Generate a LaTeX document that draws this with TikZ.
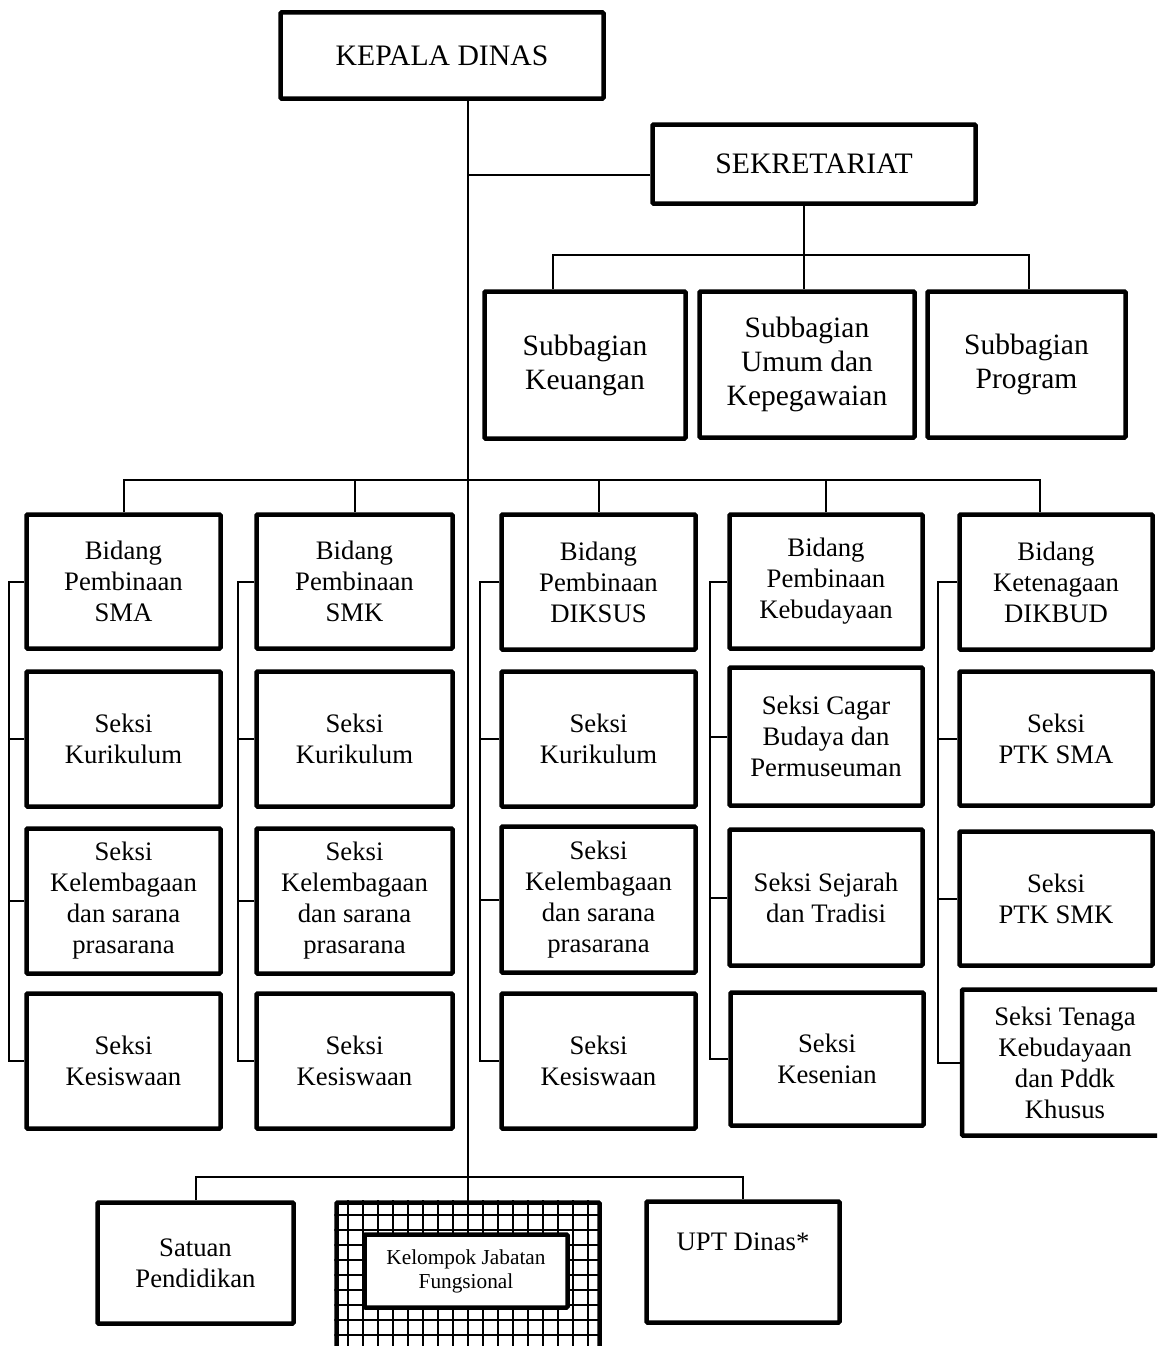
\documentclass[tikz,border=0pt]{standalone}
\usepackage{fontspec}
\setmainfont{Liberation Serif}
\usepackage{tikz}
\usetikzlibrary{calc}

\begin{document}
\begin{tikzpicture}[x=1pt, y=-1pt,
	kotak/.style={draw=black, line width=4.5pt, rounded corners=1pt, align=center, inner sep=0pt, fill=white, font=\fontsize{26.7}{31}\selectfont},
	garis/.style={line width=2pt}]
			\clip (0,0) rectangle (1157,1346);

			% pimpinan
			\node[kotak, minimum width=323, minimum height=86, font=\fontsize{29.7}{34}\selectfont](kadis) at (442,55.5) {KEPALA DINAS};
			\node[kotak, minimum width=323, minimum height=79, font=\fontsize{29.7}{34}\selectfont](sek) at (814,164) {SEKRETARIAT};

			\node[kotak, minimum width=201, minimum height=147, font=\fontsize{29.5}{34}\selectfont](sb1) at (585,365) {Subbagian\\Keuangan};
			\node[kotak, minimum width=215, minimum height=146, font=\fontsize{29.5}{34}\selectfont](sb2) at (807,364.5) {Subbagian\\Umum dan\\Kepegawaian};
			\node[kotak, minimum width=198, minimum height=146, font=\fontsize{29.5}{34}\selectfont](sb3) at (1026.5,364.5) {Subbagian\\Program};

			% bidang SMA
			\node[kotak, minimum width=194, minimum height=134](b1) at (123.5,581.5) {Bidang\\Pembinaan\\SMA};
			\node[kotak, minimum width=194, minimum height=135](s1a) at (123.5,739) {Seksi\\Kurikulum};
			\node[kotak, minimum width=194, minimum height=145](s1b) at (123.5,901) {Seksi\\Kelembagaan\\dan sarana\\prasarana};
			\node[kotak, minimum width=194, minimum height=135](s1c) at (123.5,1061) {Seksi\\Kesiswaan};

			% bidang SMK
			\node[kotak, minimum width=196, minimum height=134](b2) at (354.5,581.5) {Bidang\\Pembinaan\\SMK};
			\node[kotak, minimum width=196, minimum height=135](s2a) at (354.5,739) {Seksi\\Kurikulum};
			\node[kotak, minimum width=196, minimum height=145](s2b) at (354.5,901) {Seksi\\Kelembagaan\\dan sarana\\prasarana};
			\node[kotak, minimum width=196, minimum height=135](s2c) at (354.5,1061) {Seksi\\Kesiswaan};

			% bidang DIKSUS
			\node[kotak, minimum width=194, minimum height=135](b3) at (598.5,582) {Bidang\\Pembinaan\\DIKSUS};
			\node[kotak, minimum width=194, minimum height=135](s3a) at (598.5,739) {Seksi\\Kurikulum};
			\node[kotak, minimum width=194, minimum height=146](s3b) at (598.5,899.5) {Seksi\\Kelembagaan\\dan sarana\\prasarana};
			\node[kotak, minimum width=194, minimum height=135](s3c) at (598.5,1061) {Seksi\\Kesiswaan};

			% bidang kebudayaan
			\node[kotak, minimum width=193, minimum height=134](b4) at (826,581.5) {Bidang\\Pembinaan\\Kebudayaan};
			\node[kotak, minimum width=193, minimum height=138](s4a) at (826,736.5) {Seksi Cagar\\Budaya dan\\Permuseuman};
			\node[kotak, minimum width=193, minimum height=136](s4b) at (826,897.5) {Seksi Sejarah\\dan Tradisi};
			\node[kotak, minimum width=193, minimum height=133](s4c) at (827,1059) {Seksi\\Kesenian};

			% bidang ketenagaan
			\node[kotak, minimum width=193, minimum height=135](b5) at (1056,582) {Bidang\\Ketenagaan\\DIKBUD};
			\node[kotak, minimum width=193, minimum height=134](s5a) at (1056,738.5) {Seksi\\PTK SMA};
			\node[kotak, minimum width=193, minimum height=134](s5b) at (1056,898.5) {Seksi\\PTK SMK};
			\node[kotak, minimum width=206, minimum height=146](s5c) at (1065,1062.5) {Seksi Tenaga\\Kebudayaan\\dan Pddk\\Khusus};

			% bawah
			\node[kotak, minimum width=196, minimum height=121](sp) at (195.5,1263) {Satuan\\Pendidikan};
			\node[kotak, minimum width=263, minimum height=155](fung) at (468,1280) {};
			\begin{scope}
				\clip (fung.south west) rectangle (fung.north east);
				\draw[line width=1.8pt, xshift=3pt, step=15pt] (fung.south west) grid (fung.north east);
			\end{scope}
			\node[kotak, minimum width=203, minimum height=73, font=\fontsize{21.3}{24}\selectfont](kjf) at (466,1271) {Kelompok Jabatan\\Fungsional};
			\node[kotak, minimum width=193, minimum height=121](upt) at (743,1262) {UPT Dinas*\\\strut};

			% garis
			\coordinate (busS) at (804,255);
			\coordinate (busB) at (466,480);
			\coordinate (busU) at (466,1177);

			\draw[garis](kadis.south -| fung.north) -- (fung.north);
			\draw[garis]([yshift=-11pt]sek.west) -- ([yshift=-11pt]sek.west -| fung.north);

			\draw[garis](sek.south -| busS) -- (sb2.north -| busS);
			\draw[garis]([xshift=-32pt]sb1.north) |- (busS) -| ([xshift=2pt]sb3.north);

			\draw[garis](b1.north) |- (busB) -| ([xshift=-16pt]b5.north);
			\draw[garis](b2.north) -- (b2.north |- busB);
			\draw[garis](b3.north) -- (b3.north |- busB);
			\draw[garis](b4.north) -- (b4.north |- busB);

			\foreach \c/\d in {1/15, 2/16, 3/19, 4/17, 5/19}{
				\draw[garis](b\c.west) -- ++(-\d,0) |- (s\c c.west);
				\draw[garis](s\c a.west) -- ++(-\d,0);
				\draw[garis](s\c b.west) -- ++(-\d,0);
			}

			\draw[garis](sp.north) |- (busU) -| (upt.north);
		\end{tikzpicture}
\end{document}
